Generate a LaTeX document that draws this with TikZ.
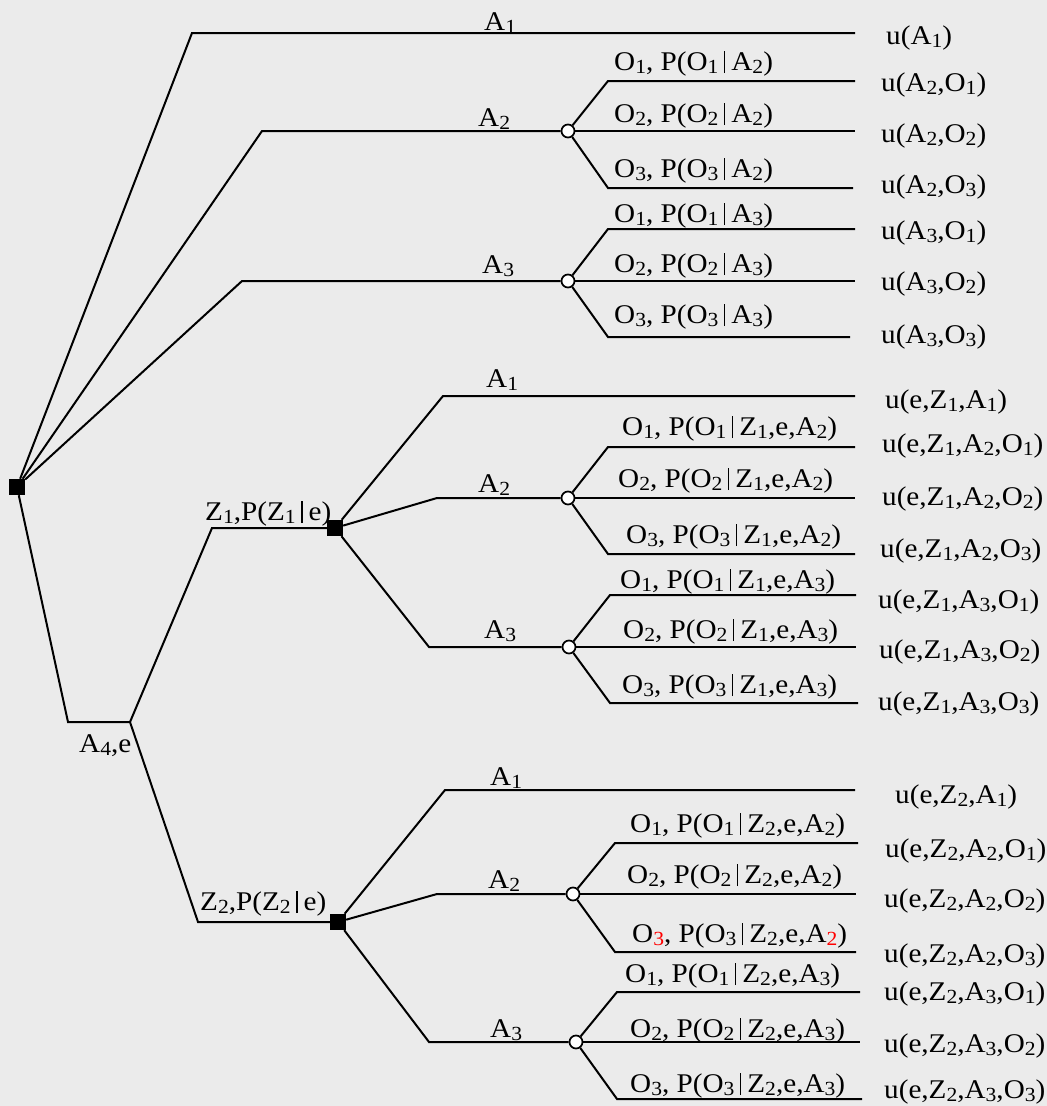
\documentclass[tikz,border=0pt]{standalone}
\usepackage{fontspec}
\setmainfont{Liberation Serif}[FakeStretch=1.08]
\definecolor{bg}{RGB}{235,235,235}
% lowered subscript digit and the conditioning bar
\newcommand{\sbs}[1]{\raisebox{-3.5pt}{\fontsize{20}{20}\selectfont #1}}
\newcommand{\gvn}{\hspace{5.5pt}\rule[-3pt]{1.5pt}{22pt}\hspace{6pt}}
\begin{document}
\begin{tikzpicture}[x=1pt,y=-1pt,
  font=\fontsize{27}{31}\selectfont,
  br/.style={line width=2pt, line join=miter},
  dec/.style={rectangle, fill=black, minimum size=16pt, inner sep=0pt},
  chn/.style={circle, draw=black, fill=white, line width=1.7pt, minimum size=13pt, inner sep=0pt},
  lbl/.style={anchor=base west, inner sep=0pt}]
\fill[bg] (0,0) rectangle (1047,1106);
\useasboundingbox (0,0) rectangle (1047,1106);

% ---------- decision and chance nodes ----------
\node[dec] (r)  at (17,487) {};
\node[dec] (z1) at (335,528) {};
\node[dec] (z2) at (338,922) {};
\node[chn] (c2)  at (568,131) {};
\node[chn] (c3)  at (568,281) {};
\node[chn] (c12) at (568,498) {};
\node[chn] (c13) at (569,647) {};
\node[chn] (c22) at (573,894) {};
\node[chn] (c23) at (576,1042) {};

% ---------- root: acting now ----------
\coordinate (t1) at (192,33);  \coordinate (t1e) at (855,33);
\coordinate (t2) at (262,131);
\coordinate (t3) at (242,281);
\coordinate (t4) at (68,722);  \coordinate (ae) at (130,722);
\draw[br] (r) -- (t1) -- (t1e);
\draw[br] (r) -- (t2) -- (c2);
\draw[br] (r) -- (t3) -- (c3);
\draw[br] (r) -- (t4) -- (ae);

\node[lbl] (la1) at (484,30)  {A\sbs{1}};
\node[lbl] (la2) at (478,126) {A\sbs{2}};
\node[lbl] (la3) at (482,273) {A\sbs{3}};
\node[lbl] (ua1) at (886,44) {u(A\sbs{1})};

% outcomes of A2
\coordinate (c2a) at (608,81);  \coordinate (c2ae) at (855,81);
\coordinate (c2be) at (855,131);
\coordinate (c2c) at (608,188); \coordinate (c2ce) at (853,188);
\draw[br] (c2) -- (c2a) -- (c2ae);
\draw[br] (c2) -- (c2be);
\draw[br] (c2) -- (c2c) -- (c2ce);
\node[lbl] (o21) at (614,70)  {O\sbs{1}, P(O\sbs{1}\gvn A\sbs{2})};
\node[lbl] (o22) at (614,122) {O\sbs{2}, P(O\sbs{2}\gvn A\sbs{2})};
\node[lbl] (o23) at (614,177) {O\sbs{3}, P(O\sbs{3}\gvn A\sbs{2})};
\node[lbl] (u21) at (881,91)  {u(A\sbs{2},O\sbs{1})};
\node[lbl] (u22) at (881,142) {u(A\sbs{2},O\sbs{2})};
\node[lbl] (u23) at (881,193) {u(A\sbs{2},O\sbs{3})};

% outcomes of A3
\coordinate (c3a) at (608,229); \coordinate (c3ae) at (855,229);
\coordinate (c3be) at (855,281);
\coordinate (c3c) at (608,337); \coordinate (c3ce) at (850,337);
\draw[br] (c3) -- (c3a) -- (c3ae);
\draw[br] (c3) -- (c3be);
\draw[br] (c3) -- (c3c) -- (c3ce);
\node[lbl] (o31) at (614,222) {O\sbs{1}, P(O\sbs{1}\gvn A\sbs{3})};
\node[lbl] (o32) at (614,272) {O\sbs{2}, P(O\sbs{2}\gvn A\sbs{3})};
\node[lbl] (o33) at (614,323) {O\sbs{3}, P(O\sbs{3}\gvn A\sbs{3})};
\node[lbl] (u31) at (881,239) {u(A\sbs{3},O\sbs{1})};
\node[lbl] (u32) at (881,290) {u(A\sbs{3},O\sbs{2})};
\node[lbl] (u33) at (881,343) {u(A\sbs{3},O\sbs{3})};

% ---------- experiment A4,e ----------
\coordinate (y1) at (212,528);
\coordinate (y2) at (198,922);
\draw[br] (ae) -- (y1) -- (z1);
\draw[br] (ae) -- (y2) -- (z2);
\node[lbl] (la4) at (79,752)  {A\sbs{4},e};
\node[lbl] (lz1) at (205,520) {Z\sbs{1},P(Z\sbs{1}\gvn e)};
\node[lbl] (lz2) at (200,910) {Z\sbs{2},P(Z\sbs{2}\gvn e)};

% ---------- after observing Z1 ----------
\coordinate (p1) at (443,396); \coordinate (p1e) at (855,396);
\coordinate (p2) at (437,498);
\coordinate (p3) at (429,647);
\draw[br] (z1) -- (p1) -- (p1e);
\draw[br] (z1) -- (p2) -- (c12);
\draw[br] (z1) -- (p3) -- (c13);
\node[lbl] (lp1) at (486,387) {A\sbs{1}};
\node[lbl] (lp2) at (478,492) {A\sbs{2}};
\node[lbl] (lp3) at (484,638) {A\sbs{3}};
\node[lbl] (up1) at (885,408) {u(e,Z\sbs{1},A\sbs{1})};

\coordinate (d2a) at (608,447); \coordinate (d2ae) at (855,447);
\coordinate (d2be) at (855,498);
\coordinate (d2c) at (608,554); \coordinate (d2ce) at (855,554);
\draw[br] (c12) -- (d2a) -- (d2ae);
\draw[br] (c12) -- (d2be);
\draw[br] (c12) -- (d2c) -- (d2ce);
\node[lbl] (q21) at (622,435) {O\sbs{1}, P(O\sbs{1}\gvn Z\sbs{1},e,A\sbs{2})};
\node[lbl] (q22) at (618,487) {O\sbs{2}, P(O\sbs{2}\gvn Z\sbs{1},e,A\sbs{2})};
\node[lbl] (q23) at (626,543) {O\sbs{3}, P(O\sbs{3}\gvn Z\sbs{1},e,A\sbs{2})};
\node[lbl] (v21) at (882,452) {u(e,Z\sbs{1},A\sbs{2},O\sbs{1})};
\node[lbl] (v22) at (882,505) {u(e,Z\sbs{1},A\sbs{2},O\sbs{2})};
\node[lbl] (v23) at (880,557) {u(e,Z\sbs{1},A\sbs{2},O\sbs{3})};

\coordinate (d3a) at (610,595); \coordinate (d3ae) at (856,595);
\coordinate (d3be) at (856,647);
\coordinate (d3c) at (610,703); \coordinate (d3ce) at (858,703);
\draw[br] (c13) -- (d3a) -- (d3ae);
\draw[br] (c13) -- (d3be);
\draw[br] (c13) -- (d3c) -- (d3ce);
\node[lbl] (q31) at (620,588) {O\sbs{1}, P(O\sbs{1}\gvn Z\sbs{1},e,A\sbs{3})};
\node[lbl] (q32) at (623,638) {O\sbs{2}, P(O\sbs{2}\gvn Z\sbs{1},e,A\sbs{3})};
\node[lbl] (q33) at (622,693) {O\sbs{3}, P(O\sbs{3}\gvn Z\sbs{1},e,A\sbs{3})};
\node[lbl] (v31) at (878,608) {u(e,Z\sbs{1},A\sbs{3},O\sbs{1})};
\node[lbl] (v32) at (879,658) {u(e,Z\sbs{1},A\sbs{3},O\sbs{2})};
\node[lbl] (v33) at (878,710) {u(e,Z\sbs{1},A\sbs{3},O\sbs{3})};

% ---------- after observing Z2 ----------
\coordinate (s1) at (445,790); \coordinate (s1e) at (855,790);
\coordinate (s2) at (437,894);
\coordinate (s3) at (429,1042);
\draw[br] (z2) -- (s1) -- (s1e);
\draw[br] (z2) -- (s2) -- (c22);
\draw[br] (z2) -- (s3) -- (c23);
\node[lbl] (ls1) at (490,785)  {A\sbs{1}};
\node[lbl] (ls2) at (488,888)  {A\sbs{2}};
\node[lbl] (ls3) at (490,1037) {A\sbs{3}};
\node[lbl] (us1) at (895,803)  {u(e,Z\sbs{2},A\sbs{1})};

\coordinate (e2a) at (615,843); \coordinate (e2ae) at (858,843);
\coordinate (e2be) at (856,894);
\coordinate (e2c) at (615,952); \coordinate (e2ce) at (856,952);
\draw[br] (c22) -- (e2a) -- (e2ae);
\draw[br] (c22) -- (e2be);
\draw[br] (c22) -- (e2c) -- (e2ce);
\node[lbl] (w21) at (630,832) {O\sbs{1}, P(O\sbs{1}\gvn Z\sbs{2},e,A\sbs{2})};
\node[lbl] (w22) at (627,883) {O\sbs{2}, P(O\sbs{2}\gvn Z\sbs{2},e,A\sbs{2})};
\node[lbl] (w23) at (632,942) {O\sbs{\textcolor{red}{3}}, P(O\sbs{3}\gvn Z\sbs{2},e,A\sbs{\textcolor{red}{2}})};
\node[lbl] (x21) at (885,857) {u(e,Z\sbs{2},A\sbs{2},O\sbs{1})};
\node[lbl] (x22) at (884,907) {u(e,Z\sbs{2},A\sbs{2},O\sbs{2})};
\node[lbl] (x23) at (884,962) {u(e,Z\sbs{2},A\sbs{2},O\sbs{3})};

\coordinate (e3a) at (617,992);  \coordinate (e3ae) at (860,992);
\coordinate (e3be) at (860,1042);
\coordinate (e3c) at (617,1099); \coordinate (e3ce) at (862,1099);
\draw[br] (c23) -- (e3a) -- (e3ae);
\draw[br] (c23) -- (e3be);
\draw[br] (c23) -- (e3c) -- (e3ce);
\node[lbl] (w31) at (625,982)  {O\sbs{1}, P(O\sbs{1}\gvn Z\sbs{2},e,A\sbs{3})};
\node[lbl] (w32) at (630,1037) {O\sbs{2}, P(O\sbs{2}\gvn Z\sbs{2},e,A\sbs{3})};
\node[lbl] (w33) at (630,1092) {O\sbs{3}, P(O\sbs{3}\gvn Z\sbs{2},e,A\sbs{3})};
\node[lbl] (x31) at (884,1000) {u(e,Z\sbs{2},A\sbs{3},O\sbs{1})};
\node[lbl] (x32) at (884,1052) {u(e,Z\sbs{2},A\sbs{3},O\sbs{2})};
\node[lbl] (x33) at (884,1098) {u(e,Z\sbs{2},A\sbs{3},O\sbs{3})};
\end{tikzpicture}
\end{document}
